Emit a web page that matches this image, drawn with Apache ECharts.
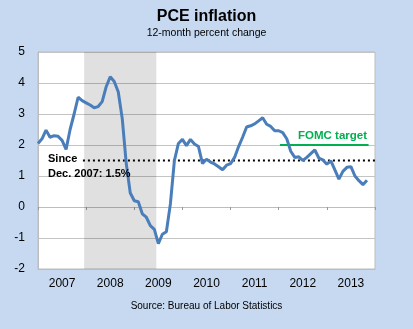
<!DOCTYPE html>
<html><head><meta charset="utf-8">
<script src="https://cdn.jsdelivr.net/npm/echarts@6/dist/echarts.min.js"></script>
<style>html,body{margin:0;padding:0;background:#C6D9F1;}#c{width:413px;height:329px;}</style>
</head><body><div id="c"></div>
<script>
// Monthly PCE inflation, Jan 2007 (index 0) .. Nov 2013 (index 82)
const pceValues = [
  2.05, 2.2, 2.48, 2.25, 2.3, 2.28, 2.15, 1.86, 2.5, 3.0, 3.54, 3.43,
  3.36, 3.29, 3.2, 3.24, 3.4, 3.88, 4.2, 4.05, 3.72, 2.85, 1.4, 0.45,
  0.2, 0.17, -0.22, -0.33, -0.6, -0.72, -1.18, -0.88, -0.8, 0.1, 1.5, 2.05,
  2.18, 1.98, 2.18, 2.03, 1.95, 1.4, 1.54, 1.45, 1.39, 1.3, 1.2, 1.35,
  1.4, 1.6, 1.95, 2.25, 2.58, 2.62, 2.68, 2.78, 2.88, 2.67, 2.6, 2.46,
  2.46, 2.4, 2.2, 1.8, 1.6, 1.62, 1.5, 1.6, 1.72, 1.84, 1.58, 1.52,
  1.38, 1.49, 1.2, 0.9, 1.15, 1.28, 1.3, 1.0, 0.85, 0.72, 0.86
];
const years = ['2007','2008','2009','2010','2011','2012','2013'];
const yTicks = [-2, -1, 0, 1, 2, 3, 4, 5];
const recession = [11.5, 29.5];          // Dec 2007 .. Jun 2009 (month index)
const sinceDec2007 = [[11.2, 1.5], [84, 1.5]];
const fomcTarget = [[60.3, 2], [82.4, 2]];

const lineData = pceValues.map((v, i) => [i, v]);
const chart = echarts.init(document.getElementById('c'));
const font = 'Liberation Sans, Arial, sans-serif';
chart.setOption({
  backgroundColor: '#C6D9F1',
  animation: false,
  title: [
    {text: 'PCE inflation', left: 'center', top: 4,
     textStyle: {fontFamily: font, fontSize: 16, fontWeight: 'bold', color: '#000'}},
    {text: '12-month percent change', left: 'center', top: 23,
     textStyle: {fontFamily: font, fontSize: 10.5, fontWeight: 'normal', color: '#000'}},
    {text: 'Source: Bureau of Labor Statistics', left: 'center', top: 296,
     textStyle: {fontFamily: font, fontSize: 10, fontWeight: 'normal', color: '#000'}}
  ],
  grid: {left: 38, right: 38, top: 52, bottom: 60, show: true,
         backgroundColor: '#fff', borderColor: '#BDBDBD', borderWidth: 1},
  xAxis: [
    {type: 'value', min: 0, max: 84, interval: 12,
     axisLine: {show: true, onZero: true, lineStyle: {color: '#BDBDBD'}},
     axisTick: {show: true, length: 3, lineStyle: {color: '#999'}},
     axisLabel: {show: false}, splitLine: {show: false}},
    {type: 'category', data: years, boundaryGap: true, position: 'bottom',
     axisLine: {show: true, onZero: false, lineStyle: {color: '#BDBDBD'}},
     axisTick: {show: false},
     axisLabel: {margin: 9, fontFamily: font, fontSize: 12, color: '#000'},
     splitLine: {show: false}}
  ],
  yAxis: {type: 'value', min: yTicks[0], max: yTicks[yTicks.length - 1], interval: 1,
    axisLine: {show: true, lineStyle: {color: '#BDBDBD'}},
    axisTick: {show: false},
    axisLabel: {margin: 13, fontFamily: font, fontSize: 12, color: '#000'},
    splitLine: {show: true, lineStyle: {color: '#C4C4C4', width: 1}}},
  series: [
    {type: 'line', xAxisIndex: 0, data: [], silent: true,
     markArea: {silent: true, itemStyle: {color: 'rgba(0,0,0,0.12)'},
       data: [[{xAxis: recession[0]}, {xAxis: recession[1]}]]}},
    {type: 'line', xAxisIndex: 0, data: sinceDec2007, symbol: 'none',
     lineStyle: {color: '#000', width: 2, type: [2, 3]}, z: 3},
    {type: 'line', xAxisIndex: 0, data: fomcTarget, symbol: 'none',
     lineStyle: {color: '#00B050', width: 2}, z: 3},
    {type: 'line', xAxisIndex: 0, data: lineData, symbol: 'none',
     lineStyle: {color: '#4A7EBB', width: 3}, z: 4}
  ],
  graphic: [
    {type: 'text', left: 48, top: 151, z: 10,
     style: {text: 'Since\nDec. 2007: 1.5%', font: 'bold 11px ' + font, fill: '#000', lineHeight: 15}},
    {type: 'text', left: 298, top: 130, z: 10,
     style: {text: 'FOMC target', font: 'bold 11.5px ' + font, fill: '#00B050'}}
  ]
});
</script></body></html>
